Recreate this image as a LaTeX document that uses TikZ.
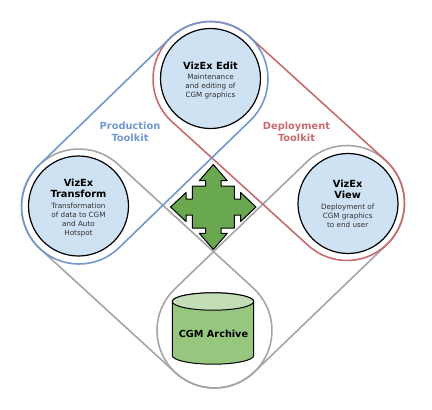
\documentclass[tikz,border=0pt]{standalone}
\usepackage{fontspec}
\setmainfont{DejaVu Sans}
\usetikzlibrary{calc}
\definecolor{bluel}{HTML}{7097CF}
\definecolor{redl}{HTML}{C96A6D}
\definecolor{greyl}{HTML}{A6A4A4}
\definecolor{circfill}{HTML}{CFE2F3}
\definecolor{dgreen}{HTML}{6AA84F}
\definecolor{mgreen}{HTML}{97C77F}
\definecolor{lgreen}{HTML}{C3DEB6}
\definecolor{bodytxt}{HTML}{303030}
\newcommand{\stadium}[4]{%
  \draw[#4] let \p1=(#1),\p2=(#2),\n1={atan2(\y2-\y1,\x2-\x1)} in
    ($(#1)+(\n1+90:#3)$) arc[start angle=\n1+90,delta angle=180,radius=#3]
    -- ($(#2)+(\n1-90:#3)$) arc[start angle=\n1-90,delta angle=180,radius=#3] -- cycle;}
\newcommand{\hd}[1]{{\fontsize{9.8pt}{11.7pt}\selectfont\bfseries\color{black} #1}}
\tikzset{
  x=1pt,y=1pt,
  tool/.style={circle,draw=black,line width=1.2pt,fill=circfill,minimum size=100pt,inner sep=0pt},
  tooltext/.style={align=center,inner sep=0pt,text=bodytxt,font=\fontsize{7.2pt}{8.9pt}\selectfont},
  kitlabel/.style={align=center,inner sep=0pt,font=\fontsize{9.85pt}{11.7pt}\selectfont\bfseries},
  kit/.style={line width=1.6pt},
  shapeline/.style={draw=black,line width=1pt,line join=round}
}
\begin{document}
\begin{tikzpicture}
\useasboundingbox (0,0) rectangle (432,-410);
\coordinate (ed) at (210.5,-79);
\coordinate (tr) at (79,-206.5);
\coordinate (vi) at (347,-203);
\coordinate (ar) at (214.5,-330.5);
\stadium{tr}{ar}{57.5}{kit,draw=greyl}
\stadium{vi}{ar}{57.5}{kit,draw=greyl}
\stadium{vi}{ed}{57.5}{kit,draw=redl}
\stadium{ed}{tr}{57.5}{kit,draw=bluel}
\node[tool] (edit) at (210.5,-78.5) {};
\node[tool] (trans) at (78.5,-206) {};
\node[tool] (view) at (348,-203.5) {};
\node[tooltext] (edittext) at (210.5,-80.5) {\hd{VizEx Edit}\\[1.5pt]Maintenance\\and editing of\\CGM graphics};
\node[tooltext] (transtext) at (78.5,-207.7) {\hd{VizEx}\\[2.8pt]\hd{Transform}\\[1.5pt]Transformation\\of data to CGM\\and Auto\\Hotspot};
\node[tooltext] (viewtext) at (347.7,-203.5) {\hd{VizEx}\\[2.8pt]\hd{View}\\[1.5pt]Deployment of\\CGM graphics\\to end user};
\node[kitlabel,text=bluel] (prod) at (130,-131.5) {Production\\Toolkit};
\node[kitlabel,text=redl] (depl) at (296.5,-131.5) {Deployment\\Toolkit};
% four-way arrow
\begin{scope}[shift={(213.3,-207)}]
\draw[shapeline,fill=dgreen]
 (0,42.5) -- (14,26.3) -- (7.7,26.3) -- (7.7,21) -- (21,21) -- (21,8) -- (27.3,8) -- (27.3,14.5)
 -- (42.7,0) -- (27.3,-14.5) -- (27.3,-8) -- (21,-8) -- (21,-21) -- (7.7,-21) -- (7.7,-26.3) -- (14,-26.3)
 -- (0,-42.5) -- (-14,-26.3) -- (-7.7,-26.3) -- (-7.7,-21) -- (-21,-21) -- (-21,-8) -- (-27.3,-8) -- (-27.3,-14.5)
 -- (-42.7,0) -- (-27.3,14.5) -- (-27.3,8) -- (-21,8) -- (-21,21) -- (-7.7,21) -- (-7.7,26.3) -- (-14,26.3) -- cycle;
\end{scope}
% cylinder
\begin{scope}[shift={(213,-301.5)}]
\draw[shapeline,fill=mgreen] (-40.7,0) -- (-40.7,-54) arc[start angle=180,end angle=360,x radius=40.7,y radius=8.7] -- (40.7,0) arc[start angle=0,end angle=180,x radius=40.7,y radius=8.7] -- cycle;
\draw[shapeline,fill=lgreen] (0,0) ellipse[x radius=40.7,y radius=8.7];
\end{scope}
\node[inner sep=0pt,font=\fontsize{9.7pt}{11pt}\selectfont\bfseries] (archive) at (213.5,-333.5) {CGM Archive};
\end{tikzpicture}
\end{document}
